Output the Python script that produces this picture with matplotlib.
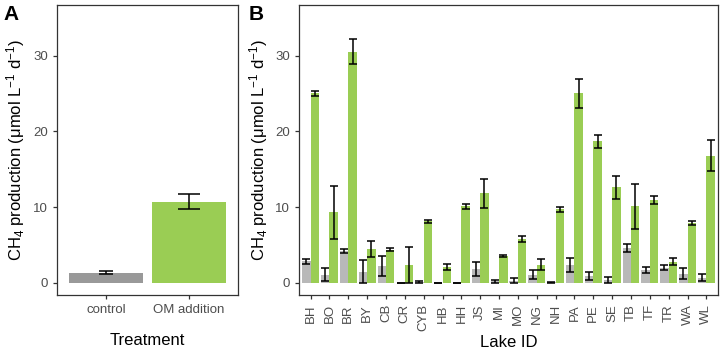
import numpy as np
import matplotlib
matplotlib.use("Agg")
import matplotlib.pyplot as plt

plt.rcParams['font.family'] = ['Liberation Sans', 'DejaVu Sans']
plt.rcParams['mathtext.fontset'] = 'custom'
plt.rcParams['mathtext.rm'] = 'Liberation Sans'
plt.rcParams['mathtext.it'] = 'Liberation Sans:italic'
plt.rcParams['mathtext.bf'] = 'Liberation Sans:bold'

# Panel A: overall treatment means
treatments = ['control', 'OM addition']
treat_mean = [1.35, 10.7]
treat_err = [0.2, 1.0]

# Panel B: per-lake means
lakes = ['BH', 'BO', 'BR', 'BY', 'CB', 'CR', 'CYB', 'HB', 'HH', 'JS', 'MI',
         'MO', 'NG', 'NH', 'PA', 'PE', 'SE', 'TB', 'TF', 'TR', 'WA', 'WL']
ctrl_mean = [2.85, 1.1, 4.2, 1.5, 2.2, 0.0, 0.15, 0.0, 0.0, 1.8, 0.2,
             0.3, 1.1, 0.1, 2.4, 0.9, 0.4, 4.6, 1.7, 2.0, 1.2, 0.7]
ctrl_err = [0.3, 0.8, 0.25, 1.55, 1.3, 0.0, 0.1, 0.0, 0.0, 0.9, 0.15,
            0.35, 0.65, 0.05, 0.9, 0.5, 0.4, 0.5, 0.35, 0.35, 0.7, 0.45]
om_mean = [25.0, 9.3, 30.5, 4.5, 4.4, 2.35, 8.1, 2.1, 10.1, 11.8, 3.5,
           5.8, 2.4, 9.7, 25.0, 18.7, 12.6, 10.1, 10.9, 2.8, 7.9, 16.8]
om_err = [0.3, 3.5, 1.65, 1.05, 0.2, 2.35, 0.25, 0.4, 0.3, 1.9, 0.15,
          0.45, 0.75, 0.35, 1.95, 0.85, 1.5, 2.95, 0.5, 0.5, 0.2, 2.05]

GREEN = '#9acd54'
GREY_A = '#999999'
GREY_B = '#b8b8b8'
TICK_COL = '#4d4d4d'
SPINE_COL = '#333333'
ylabel = r'CH$_4$ production ($\mathrm{\mu}$mol L$^{-1}$ d$^{-1}$)'

fig = plt.figure(figsize=(7.2, 3.51), dpi=100)
axA = fig.add_axes([0.0788, 0.1595, 0.2522, 0.827])
axB = fig.add_axes([0.4157, 0.1595, 0.5811, 0.827])

for ax in (axA, axB):
    ax.set_ylim(-1.6, 36.7)
    ax.set_yticks([0, 10, 20, 30])
    for s in ax.spines.values():
        s.set_color(SPINE_COL)
        s.set_linewidth(0.9)
    ax.tick_params(colors=SPINE_COL, labelcolor=TICK_COL, labelsize=9.5,
                   length=3, width=0.9)
    ax.set_ylabel(ylabel, fontsize=12, color='black', labelpad=4)

# Panel A
xa = np.arange(len(treatments)) + 1
axA.bar(xa, treat_mean, width=0.9, color=[GREY_A, GREEN])
axA.errorbar(xa[0], treat_mean[0], yerr=treat_err[0], fmt='none',
             ecolor='black', elinewidth=1.1, capsize=4.8, capthick=1.1)
axA.errorbar(xa[1], treat_mean[1], yerr=treat_err[1], fmt='none',
             ecolor='black', elinewidth=1.1, capsize=7.8, capthick=1.1)
axA.set_xlim(0.4, 2.6)
axA.set_xticks(xa)
axA.set_xticklabels(treatments)
axA.set_xlabel('Treatment', fontsize=12, labelpad=12)

# Panel B
xb = np.arange(len(lakes))
w = 0.45
axB.bar(xb - w / 2, ctrl_mean, width=w, color=GREY_B)
axB.bar(xb + w / 2, om_mean, width=w, color=GREEN)
axB.errorbar(xb - w / 2, ctrl_mean, yerr=ctrl_err, fmt='none',
             ecolor='black', elinewidth=1.1, capsize=3.0, capthick=1.1)
axB.errorbar(xb + w / 2, om_mean, yerr=om_err, fmt='none',
             ecolor='black', elinewidth=1.1, capsize=3.0, capthick=1.1)
axB.set_xlim(-0.6, len(lakes) - 0.4)
axB.set_xticks(xb)
axB.set_xticklabels(lakes, rotation=90)
axB.set_xlabel('Lake ID', fontsize=12, labelpad=3)

fig.text(0.005, 0.985, 'A', fontsize=15, fontweight='bold', va='top')
fig.text(0.346, 0.985, 'B', fontsize=15, fontweight='bold', va='top')

fig.savefig('out.png', dpi=100)
